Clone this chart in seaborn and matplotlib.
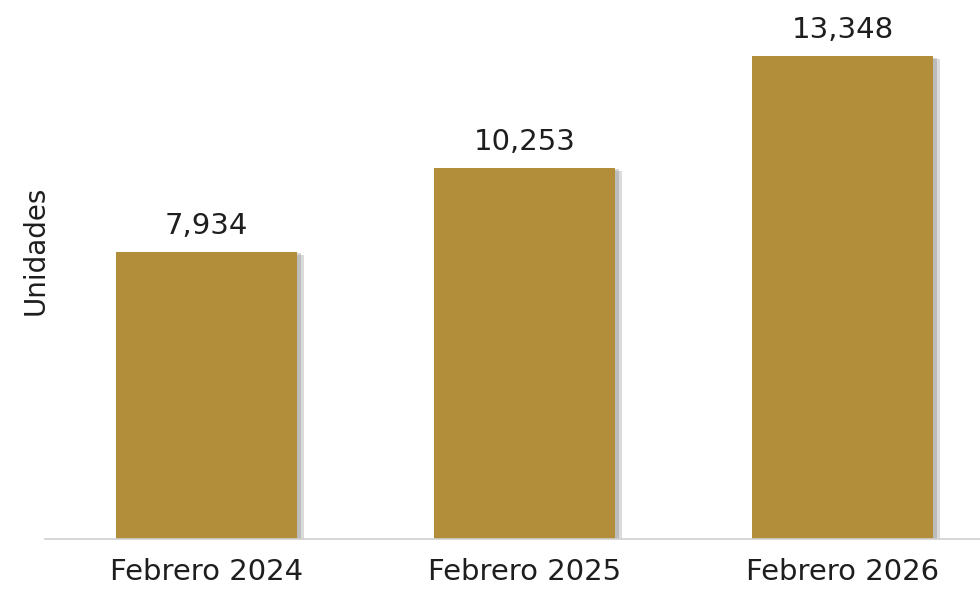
import matplotlib
matplotlib.use("Agg")
import matplotlib.pyplot as plt
import matplotlib.patheffects as pe
import seaborn as sns
import pandas as pd

categories = ["Febrero 2024", "Febrero 2025", "Febrero 2026"]
values = [7934, 10253, 13348]

BAR_COLOR = "#B28E3B"
TEXT_COLOR = "#1E1E1E"

sns.set_theme(style="white")
plt.rcParams["font.family"] = ["DejaVu Sans"]

df = pd.DataFrame({"periodo": categories, "unidades": values})

fig = plt.figure(figsize=(9.8, 5.89), dpi=100)
ax = fig.add_axes([45 / 980, 50 / 589, 935 / 980, 539 / 589])

sns.barplot(data=df, x="periodo", y="unidades", color=BAR_COLOR,
            saturation=1, width=0.57, linewidth=0, ax=ax)

# soft drop shadow on the right side of each bar
shadow = [pe.SimplePatchShadow(offset=(5, -2), shadow_rgbFace="#888888", alpha=0.3),
          pe.SimplePatchShadow(offset=(3, -1), shadow_rgbFace="#777777", alpha=0.3),
          pe.Normal()]
for bar in ax.patches:
    bar.set_path_effects(shadow)

for bar, v in zip(ax.patches, values):
    ax.text(bar.get_x() + bar.get_width() / 2, v + 330, f"{v:,}",
            ha="center", va="bottom", fontsize=21, color=TEXT_COLOR)

ax.set_xlim(-0.508, 2.432)
ax.set_ylim(0, 14900)
ax.set_yticks([])
ax.set_xlabel("")
ax.set_ylabel("Unidades", fontsize=20, color=TEXT_COLOR)
ax.yaxis.set_label_coords(0.005, 0.535)
ax.tick_params(axis="x", labelsize=21, colors=TEXT_COLOR, length=0, pad=14)

for s in ["top", "right", "left"]:
    ax.spines[s].set_visible(False)
ax.spines["bottom"].set_color("#D0D0D0")
ax.spines["bottom"].set_linewidth(1.2)

fig.savefig("out.png", dpi=100)
